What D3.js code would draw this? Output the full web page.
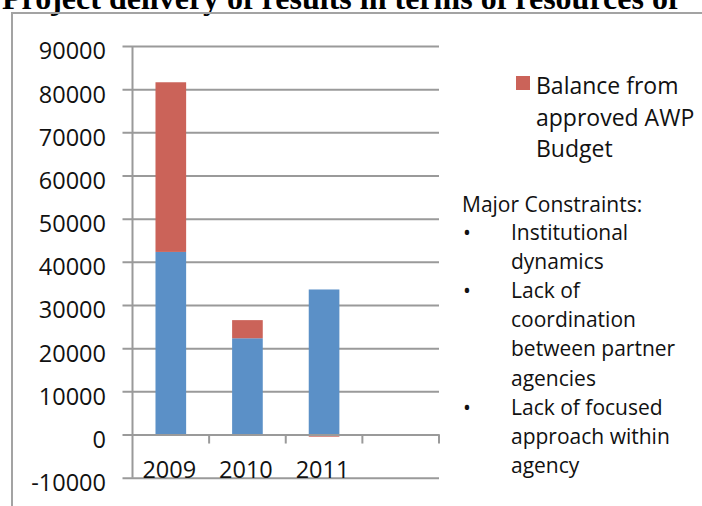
<!DOCTYPE html>
<html>
<head>
<meta charset="utf-8">
<script src="https://cdn.jsdelivr.net/npm/d3@7"></script>
<style>
  body { margin: 0; background: #fff; }
  svg { display: block; }
</style>
</head>
<body>
<div id="chart"></div>
<script>
// chart values
const years = ["2009", "2010", "2011", ""];
const spent = [42300, 22300, 33600, 0];
const balance = [39300, 4200, -500, 0];
const yTicks = [-10000, 0, 10000, 20000, 30000, 40000, 50000, 60000, 70000, 80000, 90000];
const legendLabel = ["Balance from", "approved AWP", "Budget"];
const constraintsTitle = "Major Constraints:";
const constraints = [
    ["Institutional", "dynamics"],
    ["Lack of", "coordination", "between partner", "agencies"],
    ["Lack of focused", "approach within", "agency"]
];

const W = 702, H = 506;
const blue = "#5b90c7", red = "#cb6359", grid = "#9a9a9a";
const font = "'Open Sans', sans-serif";

const svg = d3.select("#chart").append("svg")
    .attr("width", W)
    .attr("height", H);

// title (cut off at the top like the source)
svg.append("text")
    .attr("x", 2)
    .attr("y", 9)
    .style("font-family", "'Liberation Serif', 'Times New Roman', serif")
    .style("font-weight", "bold")
    .style("font-size", "32px")
    .text("Project delivery of results in terms of resources of");

// chart frame
svg.append("rect")
    .attr("x", 12).attr("y", 13)
    .attr("width", 720).attr("height", 520)
    .attr("fill", "none")
    .attr("stroke", "#a3a3a3")
    .attr("stroke-width", 2);

const x = d3.scaleBand()
    .domain(years)
    .range([132.5, 439])
    .padding(0);

const y = d3.scaleLinear()
    .domain([-10000, 90000])
    .range([477.7, 46]);

// gridlines + y labels
const yAxis = svg.append("g")
    .attr("transform", "translate(132.5,0)")
    .call(d3.axisLeft(y).tickValues(yTicks).tickSize(-(439 - 132.5)).tickPadding(0).tickFormat(d => String(d)));
yAxis.select(".domain").remove();
yAxis.selectAll(".tick line")
    .attr("x1", -10)
    .attr("stroke", grid)
    .attr("stroke-width", 2);
yAxis.selectAll(".tick text")
    .attr("x", -26.5)
    .attr("dy", "0.55em")
    .style("font-family", font)
    .style("font-size", "23.5px")
    .attr("fill", "#111");

// stacked bars (diverging so the negative balance goes below zero)
const rows = years.map((yr, i) => ({ year: yr, spent: spent[i], balance: balance[i] }));
const stack = d3.stack()
    .keys(["spent", "balance"])
    .offset(d3.stackOffsetDiverging);
const series = stack(rows);
const colors = { spent: blue, balance: red };
const barW = x.bandwidth() * 0.4;

svg.append("g").selectAll("g")
    .data(series)
    .join("g")
    .attr("fill", d => colors[d.key])
    .selectAll("rect")
    .data(d => d)
    .join("rect")
    .attr("x", d => x(d.data.year) + (x.bandwidth() - barW) / 2)
    .attr("y", d => y(d[1]))
    .attr("width", barW)
    .attr("height", d => Math.abs(y(d[0]) - y(d[1])));

// y axis line
svg.append("line")
    .attr("x1", 132.5).attr("x2", 132.5)
    .attr("y1", y(90000)).attr("y2", y(-10000))
    .attr("stroke", grid).attr("stroke-width", 2);

// x axis at zero with ticks pointing down
const xAxis = svg.append("g")
    .attr("transform", `translate(0,${y(0)})`)
    .call(d3.axisBottom(x).tickSize(0).tickFormat(""));
xAxis.select(".domain").attr("stroke", grid).attr("stroke-width", 2);
xAxis.selectAll(".tick").remove();
xAxis.selectAll("line.sep")
    .data(years)
    .join("line")
    .attr("class", "sep")
    .attr("x1", d => x(d) + x.bandwidth())
    .attr("x2", d => x(d) + x.bandwidth())
    .attr("y1", 0).attr("y2", 9)
    .attr("stroke", grid).attr("stroke-width", 2);

// category labels sit down by the -10000 line
svg.append("g").selectAll("text")
    .data(years)
    .join("text")
    .attr("x", d => x(d) + x.bandwidth() / 2 - 1.5)
    .attr("y", 478)
    .attr("text-anchor", "middle")
    .style("font-family", font)
    .style("font-size", "23.5px")
    .attr("fill", "#111")
    .text(d => d);

// legend
svg.append("rect")
    .attr("x", 516).attr("y", 76)
    .attr("width", 14).attr("height", 14)
    .attr("fill", red);
svg.append("g").selectAll("text")
    .data(legendLabel)
    .join("text")
    .attr("x", 536)
    .attr("y", (d, i) => 94 + i * 31.5)
    .style("font-family", font)
    .style("font-size", "23px")
    .attr("fill", "#111")
    .text(d => d);

// constraints note
const note = svg.append("g")
    .style("font-family", font)
    .style("font-size", "21px")
    .attr("fill", "#111");
note.append("text")
    .attr("x", 462).attr("y", 212)
    .text(constraintsTitle);
let line = 0;
constraints.forEach(item => {
    note.append("text")
        .attr("x", 463).attr("y", 240 + line * 29.1)
        .text("•");
    item.forEach(t => {
        note.append("text")
            .attr("x", 511).attr("y", 240 + line * 29.1)
            .text(t);
        line++;
    });
});
</script>
</body>
</html>
